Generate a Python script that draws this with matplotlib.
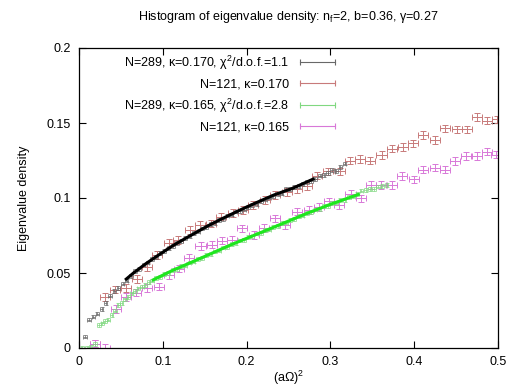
import matplotlib
matplotlib.use("Agg")
import matplotlib.pyplot as plt
from matplotlib.lines import Line2D
from matplotlib.ticker import FuncFormatter

plt.rcParams["font.family"] = ["Liberation Sans", "DejaVu Sans"]
plt.rcParams["mathtext.fontset"] = "custom"
plt.rcParams["mathtext.rm"] = "Liberation Sans"
plt.rcParams["mathtext.it"] = "Liberation Sans:italic"

# N=289, kappa=0.170 histogram
x289a = [0.007, 0.012, 0.017, 0.022, 0.027, 0.032, 0.037, 0.042, 0.047, 0.052, 0.057,
         0.062, 0.067, 0.072, 0.077, 0.082, 0.087, 0.092, 0.097, 0.102, 0.107, 0.112,
         0.117, 0.122, 0.127, 0.132, 0.137, 0.142, 0.147, 0.152, 0.157, 0.162, 0.167,
         0.172, 0.177, 0.182, 0.187, 0.192, 0.197, 0.202, 0.207, 0.212, 0.217, 0.222,
         0.227, 0.232, 0.237, 0.242, 0.247, 0.252, 0.257, 0.262, 0.267, 0.272, 0.277,
         0.282, 0.287, 0.292, 0.297, 0.302, 0.307, 0.312, 0.317]
y289a = [0.0076, 0.019, 0.021, 0.023, 0.026, 0.030, 0.035, 0.038, 0.040, 0.043, 0.045,
         0.0480, 0.0512, 0.0528, 0.0556, 0.0570, 0.0595, 0.0608, 0.0632, 0.0645, 0.0668, 0.0680,
         0.0702, 0.0713, 0.0735, 0.0745, 0.0768, 0.0776, 0.0797, 0.0806, 0.0826, 0.0835, 0.0855,
         0.0862, 0.0883, 0.0890, 0.0910, 0.0915, 0.0923, 0.0940, 0.0952, 0.0962, 0.0978, 0.0990,
         0.1003, 0.1012, 0.1025, 0.1030, 0.1058, 0.1062, 0.1072, 0.1080, 0.1093, 0.1105, 0.1115,
         0.1128, 0.1150, 0.1155, 0.1167, 0.1187, 0.1180, 0.1205, 0.1230]
err289a = 0.0012

# N=121, kappa=0.170 histogram
x121a = [0.019, 0.031, 0.043, 0.056, 0.069, 0.081, 0.093, 0.107, 0.118, 0.132, 0.144,
         0.158, 0.170, 0.184, 0.196, 0.208, 0.222, 0.234, 0.248, 0.260, 0.272, 0.284,
         0.2975, 0.3115, 0.323, 0.335, 0.347, 0.361, 0.373, 0.387, 0.399, 0.411, 0.425,
         0.437, 0.451, 0.463, 0.4745, 0.4865, 0.4985]
y121a = [0.003, 0.034, 0.039, 0.040, 0.046, 0.054, 0.062, 0.070, 0.072, 0.0787, 0.082,
         0.083, 0.0876, 0.090, 0.092, 0.0953, 0.0987, 0.102, 0.104, 0.106, 0.1077, 0.115,
         0.1177, 0.1177, 0.125, 0.126, 0.125, 0.1287, 0.133, 0.134, 0.1364, 0.142, 0.1387,
         0.1464, 0.1458, 0.1458, 0.154, 0.1516, 0.1524]
err121a = 0.0025

# N=289, kappa=0.165 histogram
x289b = [0.004, 0.009, 0.014, 0.019, 0.024, 0.028, 0.031, 0.035, 0.039, 0.043, 0.047,
         0.051, 0.055, 0.059, 0.063, 0.067, 0.071, 0.075, 0.079, 0.083, 0.087, 0.092,
         0.097, 0.102, 0.107, 0.112, 0.117, 0.122, 0.127, 0.132, 0.137, 0.142, 0.147,
         0.152, 0.157, 0.162, 0.167, 0.172, 0.177, 0.182, 0.187, 0.192, 0.197, 0.202,
         0.207, 0.212, 0.217, 0.222, 0.227, 0.232, 0.237, 0.242, 0.247, 0.252, 0.257,
         0.262, 0.267, 0.272, 0.277, 0.282, 0.287, 0.292, 0.297, 0.302, 0.307, 0.312,
         0.317, 0.322, 0.327, 0.332, 0.337, 0.342, 0.347, 0.352, 0.357, 0.362, 0.367]
y289b = [0.000, 0.000, 0.001, 0.0027, 0.0153, 0.0164, 0.018, 0.019, 0.022, 0.025, 0.0287,
         0.030, 0.0324, 0.034, 0.0364, 0.038, 0.0398, 0.041, 0.042, 0.044, 0.045, 0.0468,
         0.0474, 0.0495, 0.0502, 0.0522, 0.0527, 0.0546, 0.0550, 0.0570, 0.0576, 0.0595, 0.0600,
         0.0619, 0.0624, 0.0644, 0.0650, 0.0669, 0.0675, 0.0694, 0.0698, 0.0717, 0.0721, 0.0740,
         0.0744, 0.0763, 0.0767, 0.0785, 0.0790, 0.0808, 0.0813, 0.0832, 0.0836, 0.0855, 0.0860,
         0.0878, 0.0883, 0.0901, 0.0905, 0.0923, 0.0927, 0.0945, 0.0948, 0.0966, 0.0969, 0.0986,
         0.0988, 0.1005, 0.1009, 0.1025, 0.1050, 0.1053, 0.1062, 0.1060, 0.1076, 0.1080, 0.1088]
err289b = 0.0012

# N=121, kappa=0.165 histogram
x121b = [0.019, 0.031, 0.044, 0.056, 0.068, 0.081, 0.095, 0.107, 0.119, 0.131, 0.145,
         0.159, 0.171, 0.183, 0.195, 0.209, 0.221, 0.234, 0.246, 0.260, 0.274, 0.286,
         0.298, 0.310, 0.324, 0.336, 0.348, 0.360, 0.374, 0.386, 0.400, 0.411, 0.425,
         0.437, 0.449, 0.462, 0.475, 0.4865, 0.498]
y121b = [0.003, 0.000, 0.026, 0.034, 0.037, 0.040, 0.041, 0.0487, 0.053, 0.060, 0.068,
         0.069, 0.0716, 0.072, 0.0798, 0.0753, 0.080, 0.0864, 0.082, 0.091, 0.092, 0.094,
         0.0977, 0.0953, 0.103, 0.0998, 0.1087, 0.1087, 0.1087, 0.1147, 0.1124, 0.119, 0.1202,
         0.119, 0.1247, 0.128, 0.128, 0.131, 0.129]
err121b = 0.0025

# fitted curves
fit_xa = [0.055, 0.065, 0.080, 0.095, 0.113, 0.130, 0.153, 0.170, 0.193, 0.210, 0.233, 0.255, 0.281]
fit_ya = [0.0453, 0.0500, 0.0563, 0.0620, 0.0686, 0.0740, 0.0812, 0.0860, 0.0922, 0.0965, 0.1021, 0.1065, 0.1130]
fit_xb = [0.087, 0.110, 0.145, 0.180, 0.2245, 0.270, 0.300, 0.335]
fit_yb = [0.0450, 0.0513, 0.0598, 0.0685, 0.0787, 0.0893, 0.0958, 0.1027]

labels = ["N=289, κ=0.170, χ$^2$/d.o.f.=1.1", "N=121, κ=0.170",
          "N=289, κ=0.165, χ$^2$/d.o.f.=2.8", "N=121, κ=0.165"]
colors = ["#686868", "#c87a7a", "#80d880", "#d878d8"]

fig = plt.figure(figsize=(5.10, 3.86), dpi=100)
ax = fig.add_axes([79 / 510, 1 - 348 / 386, 419 / 510, 300 / 386])

ax.errorbar(x121a, y121a, xerr=0.006, yerr=err121a, fmt="none", ecolor=colors[1],
            elinewidth=0.7, capsize=2.0, capthick=0.7)
ax.errorbar(x121b, y121b, xerr=0.006, yerr=err121b, fmt="none", ecolor=colors[3],
            elinewidth=0.7, capsize=2.0, capthick=0.7)
ax.errorbar(x289a, y289a, xerr=0.002, yerr=err289a, fmt="none", ecolor=colors[0],
            elinewidth=0.5, capsize=1.2, capthick=0.5)
ax.errorbar(x289b, y289b, xerr=0.002, yerr=err289b, fmt="none", ecolor=colors[2],
            elinewidth=0.5, capsize=1.2, capthick=0.5)
ax.plot(fit_xa, fit_ya, color="black", lw=2.2, solid_capstyle="butt")
ax.plot(fit_xb, fit_yb, color="#1ee61e", lw=2.2, solid_capstyle="butt")

ax.set_xlim(0, 0.5)
ax.set_ylim(0, 0.2)
ax.set_xticks([0, 0.1, 0.2, 0.3, 0.4, 0.5])
ax.set_yticks([0, 0.05, 0.1, 0.15, 0.2])
fmt = FuncFormatter(lambda v, p: "%g" % round(v, 3))
ax.xaxis.set_major_formatter(fmt)
ax.yaxis.set_major_formatter(fmt)
ax.tick_params(direction="in", length=5, width=0.8, top=True, right=True,
               labelsize=9, pad=6)
for s in ax.spines.values():
    s.set_linewidth(0.9)

ax.set_xlabel("(aΩ)$^2$", fontsize=9, labelpad=0)
ax.set_ylabel("Eigenvalue density", fontsize=9, labelpad=12)
ax.set_title("Histogram of eigenvalue density: n$_\\mathrm{f}$=2, b=0.36, γ=0.27",
             fontsize=9, pad=20)

handles = [Line2D([], [], color=c, lw=0.8, marker="|", markersize=5, markeredgewidth=0.8)
           for c in colors]
leg = ax.legend(handles, labels, loc="upper right", bbox_to_anchor=(0.619, 0.982),
                frameon=False, markerfirst=False, numpoints=2, fontsize=9,
                handlelength=3.4, handletextpad=0.55, labelspacing=0.52,
                borderpad=0, borderaxespad=0)
for col in leg._legend_handle_box.get_children():
    col.align = "right"

fig.savefig("out.png", dpi=100)
